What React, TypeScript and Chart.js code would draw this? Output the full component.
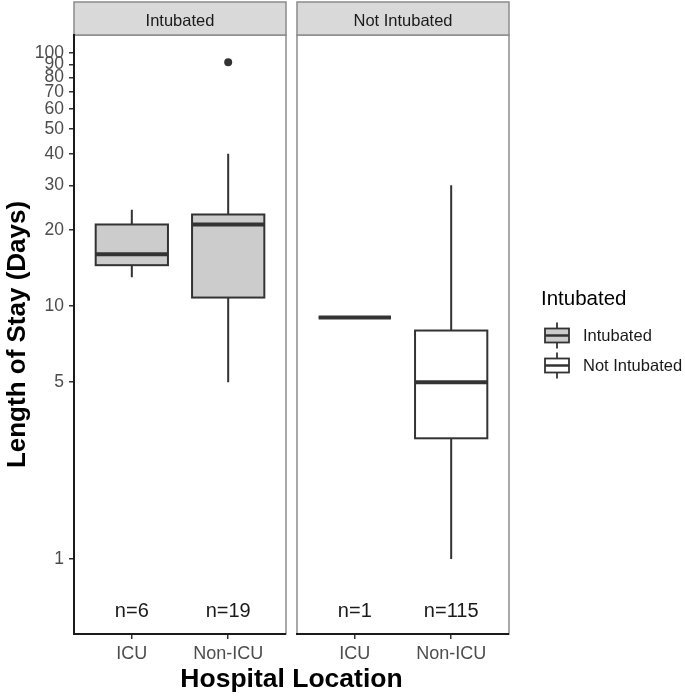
import React, { useEffect, useRef } from "react";
import { Chart, registerables } from "chart.js";

Chart.register(...registerables);

// ---------- data ----------
const facets = ["Intubated", "Not Intubated"];
const locations = ["ICU", "Non-ICU"];
// one entry per box
const boxFacet = [0, 0, 1, 1];
const boxLocation = [0, 1, 0, 1];
const whiskerLow = [13, 5, 9, 1];
const quartile1 = [14.5, 10.8, 9, 3];
const medians = [16, 21, 9, 5];
const quartile3 = [21, 23, 9, 8];
const whiskerHigh = [24, 40, 9, 30];
const counts = [6, 19, 1, 115];
const outlierBox = [1];
const outlierValues = [92];
const yTicks = [1, 5, 10, 20, 30, 40, 50, 60, 70, 80, 90, 100];
const legendTitle = "Intubated";
const legendLabels = ["Intubated", "Not Intubated"];
const nLabelValue = 0.62;

// ---------- styling / layout ----------
const FONT = "'Liberation Sans', Arial, Helvetica, sans-serif";
const fillColors = ["#cccccc", "#ffffff"];
const PANEL_SPAN = 2.2;
const PANEL_GAP = 0.114;
const BOX_HALF = 0.375;
const Y_MIN = 0.5054;
const Y_MAX = 117.8;

const facetOffset = (f: number) => f * (PANEL_SPAN + PANEL_GAP);
const boxX = (i: number) => facetOffset(boxFacet[i]) + boxLocation[i] + 1;
const tickValues = boxFacet.map((_, i) => boxX(i));

const facetPlugin = {
  id: "facetBoxes",
  beforeDraw(chart: any) {
    const { ctx, chartArea } = chart;
    const x = chart.scales.x;
    ctx.save();
    facets.forEach((name, f) => {
      const l = x.getPixelForValue(facetOffset(f) + 0.4);
      const r = x.getPixelForValue(facetOffset(f) + PANEL_SPAN + 0.4);
      const h = chartArea.bottom - chartArea.top;
      ctx.fillStyle = "#ffffff";
      ctx.fillRect(l, chartArea.top, r - l, h);
      ctx.strokeStyle = "#8c8c8c";
      ctx.lineWidth = 1.5;
      ctx.strokeRect(l, chartArea.top, r - l, h);
      // strip
      const st = chartArea.top - 33;
      ctx.fillStyle = "#d9d9d9";
      ctx.fillRect(l, st, r - l, 33);
      ctx.strokeRect(l, st, r - l, 33);
      ctx.fillStyle = "#1a1a1a";
      ctx.font = `16.5px ${FONT}`;
      ctx.textAlign = "center";
      ctx.textBaseline = "middle";
      ctx.fillText(name, (l + r) / 2, st + 19);
    });
    ctx.restore();
  },
  beforeDatasetsDraw(chart: any) {
    const { ctx, chartArea } = chart;
    const x = chart.scales.x;
    const y = chart.scales.y;
    ctx.save();
    // bottom axis lines per panel
    facets.forEach((_, f) => {
      const l = x.getPixelForValue(facetOffset(f) + 0.4);
      const r = x.getPixelForValue(facetOffset(f) + PANEL_SPAN + 0.4);
      ctx.strokeStyle = "#1a1a1a";
      ctx.lineWidth = 2;
      ctx.beginPath();
      ctx.moveTo(l - 1, chartArea.bottom);
      ctx.lineTo(r, chartArea.bottom);
      ctx.stroke();
    });
    // boxes
    boxFacet.forEach((f, i) => {
      const cx = x.getPixelForValue(boxX(i));
      const hl = x.getPixelForValue(boxX(i) - BOX_HALF);
      const hr = x.getPixelForValue(boxX(i) + BOX_HALF);
      const ylo = y.getPixelForValue(whiskerLow[i]);
      const yq1 = y.getPixelForValue(quartile1[i]);
      const ymed = y.getPixelForValue(medians[i]);
      const yq3 = y.getPixelForValue(quartile3[i]);
      const yhi = y.getPixelForValue(whiskerHigh[i]);
      ctx.strokeStyle = "#333333";
      ctx.lineWidth = 2;
      ctx.beginPath();
      ctx.moveTo(cx, yq3);
      ctx.lineTo(cx, yhi);
      ctx.moveTo(cx, yq1);
      ctx.lineTo(cx, ylo);
      ctx.stroke();
      ctx.fillStyle = fillColors[f];
      ctx.fillRect(hl, yq3, hr - hl, yq1 - yq3);
      ctx.strokeRect(hl, yq3, hr - hl, yq1 - yq3);
      ctx.lineWidth = 4;
      ctx.beginPath();
      ctx.moveTo(hl, ymed);
      ctx.lineTo(hr, ymed);
      ctx.stroke();
      // n labels
      ctx.fillStyle = "#1a1a1a";
      ctx.font = `20px ${FONT}`;
      ctx.textAlign = "center";
      ctx.textBaseline = "middle";
      ctx.fillText(`n=${counts[i]}`, cx, y.getPixelForValue(nLabelValue));
    });
    // legend
    ctx.fillStyle = "#000000";
    ctx.font = `20.5px ${FONT}`;
    ctx.textAlign = "left";
    ctx.textBaseline = "middle";
    ctx.fillText(legendTitle, 541, 299);
    legendLabels.forEach((lab, k) => {
      const cy = 335.5 + k * 30;
      const kl = 545;
      const kr = 569;
      const kc = (kl + kr) / 2;
      ctx.strokeStyle = "#333333";
      ctx.lineWidth = 1.8;
      ctx.beginPath();
      ctx.moveTo(kc, cy - 13);
      ctx.lineTo(kc, cy + 13);
      ctx.stroke();
      ctx.fillStyle = fillColors[k];
      ctx.fillRect(kl, cy - 7, kr - kl, 14);
      ctx.strokeRect(kl, cy - 7, kr - kl, 14);
      ctx.lineWidth = 2.5;
      ctx.beginPath();
      ctx.moveTo(kl, cy);
      ctx.lineTo(kr, cy);
      ctx.stroke();
      ctx.fillStyle = "#1a1a1a";
      ctx.font = `16.5px ${FONT}`;
      ctx.fillText(lab, 583, cy + 1);
    });
    ctx.restore();
  },
};

export default function App() {
  const canvasRef = useRef<HTMLCanvasElement | null>(null);

  useEffect(() => {
    if (!canvasRef.current) return;
    const outlierPoints = outlierBox.map((b, k) => ({ x: boxX(b), y: outlierValues[k] }));
    const chart = new Chart(canvasRef.current, {
      type: "scatter",
      data: {
        datasets: [
          {
            label: "outliers",
            data: outlierPoints,
            pointRadius: 4,
            pointBackgroundColor: "#333333",
            pointBorderWidth: 0,
            showLine: false,
          },
        ],
      },
      plugins: [facetPlugin],
      options: {
        animation: false,
        responsive: false,
        devicePixelRatio: 1,
        layout: { padding: { left: 0, right: 176, top: 35, bottom: 0 } },
        plugins: {
          legend: { display: false },
          tooltip: { enabled: false },
        },
        scales: {
          x: {
            type: "linear",
            min: 0.4,
            max: facetOffset(1) + PANEL_SPAN + 0.4,
            afterBuildTicks: (scale: any) => {
              scale.ticks = tickValues.map((v) => ({ value: v }));
            },
            afterFit: (scale: any) => {
              scale.height = 63;
            },
            ticks: {
              autoSkip: false,
              maxRotation: 0,
              minRotation: 0,
              padding: 4,
              color: "#4d4d4d",
              font: { family: FONT, size: 18 },
              callback: (value: any) => {
                let best = 0;
                tickValues.forEach((t, i) => {
                  if (Math.abs(t - value) < Math.abs(tickValues[best] - value)) best = i;
                });
                return locations[boxLocation[best]];
              },
            },
            grid: {
              display: true,
              drawOnChartArea: false,
              drawTicks: true,
              tickLength: 5,
              color: "#333333",
              lineWidth: 1.5,
            },
            border: { display: false },
            title: {
              display: true,
              text: "Hospital Location",
              color: "#000000",
              font: { family: FONT, size: 26.5, weight: "bold" },
              padding: { top: 0, bottom: 1 },
            },
          },
          y: {
            type: "logarithmic",
            min: Y_MIN,
            max: Y_MAX,
            afterBuildTicks: (scale: any) => {
              scale.ticks = yTicks.map((v) => ({ value: v }));
            },
            afterFit: (scale: any) => {
              scale.width = 74;
            },
            ticks: {
              autoSkip: false,
              padding: 5,
              color: "#4d4d4d",
              font: { family: FONT, size: 17.5 },
              callback: (value: any) => String(value),
            },
            grid: {
              display: true,
              drawOnChartArea: false,
              drawTicks: true,
              tickLength: 5,
              color: "#333333",
              lineWidth: 1.5,
            },
            border: { display: true, color: "#1a1a1a", width: 2 },
            title: {
              display: true,
              text: "Length of Stay (Days)",
              color: "#000000",
              font: { family: FONT, size: 26, weight: "bold" },
              padding: { top: 2, bottom: 0 },
            },
          },
        },
      } as any,
    });
    return () => chart.destroy();
  }, []);

  return (
    <div style={{ position: "absolute", left: 0, top: 0, width: 685, height: 697, background: "#ffffff" }}>
      <canvas ref={canvasRef} width={685} height={697} style={{ display: "block" }} />
    </div>
  );
}
